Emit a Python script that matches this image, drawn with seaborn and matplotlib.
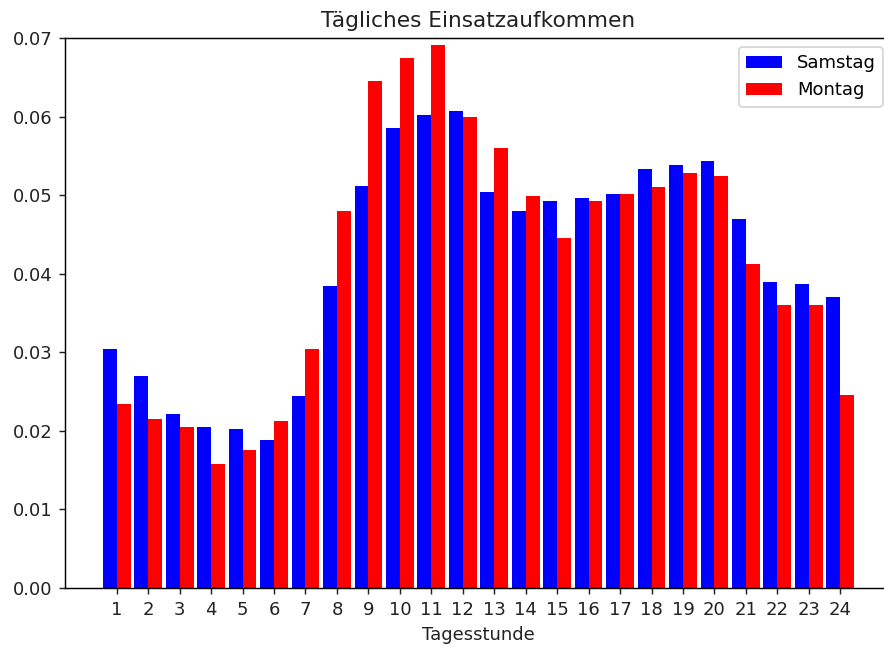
import pandas as pd
import matplotlib
matplotlib.use('Agg')
import matplotlib.pyplot as plt
import seaborn as sns

stunden = list(range(1, 25))
samstag = [0.0304, 0.0270, 0.0222, 0.0205, 0.0202, 0.0188, 0.0244, 0.0385,
           0.0512, 0.0585, 0.0602, 0.0607, 0.0504, 0.0480, 0.0492, 0.0497,
           0.0502, 0.0533, 0.0538, 0.0543, 0.0470, 0.0390, 0.0387, 0.0370]
montag = [0.0234, 0.0215, 0.0205, 0.0158, 0.0176, 0.0212, 0.0304, 0.0480,
          0.0645, 0.0674, 0.0691, 0.0599, 0.0560, 0.0499, 0.0446, 0.0492,
          0.0502, 0.0511, 0.0528, 0.0524, 0.0412, 0.0360, 0.0360, 0.0246]

df = pd.DataFrame({
    'Tagesstunde': stunden * 2,
    'Anteil': samstag + montag,
    'Tag': ['Samstag'] * 24 + ['Montag'] * 24,
})

fig = plt.figure(figsize=(884 / 130, 649 / 130), dpi=130)
ax = fig.add_axes([65 / 884, 61 / 649, 827 / 884, 550 / 649])

sns.barplot(data=df, x='Tagesstunde', y='Anteil', hue='Tag',
            palette={'Samstag': 'blue', 'Montag': 'red'},
            width=0.88, linewidth=0, saturation=1, ax=ax)

ax.set_xlim(-1.645, 24.645)
ax.set_ylim(0, 0.07)
ax.set_yticks([0.0, 0.01, 0.02, 0.03, 0.04, 0.05, 0.06, 0.07])
ax.set_yticklabels(['0.00', '0.01', '0.02', '0.03', '0.04', '0.05', '0.06', '0.07'])
ax.tick_params(colors='#222222')
ax.spines['right'].set_visible(False)
ax.set_title('Tägliches Einsatzaufkommen', color='#222222')
ax.set_xlabel('Tagesstunde', color='#222222')
ax.set_ylabel('')
ax.legend(title=None, loc='upper right')

plt.savefig('out.png', dpi=130)
